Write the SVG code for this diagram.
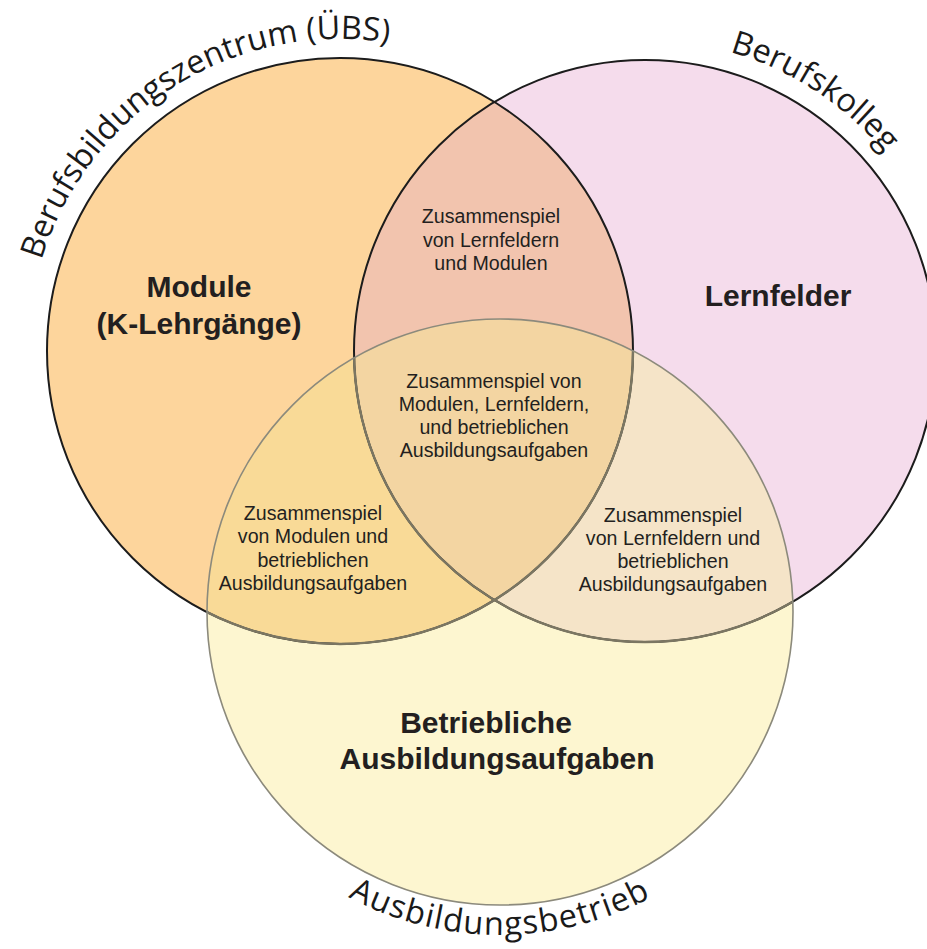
<svg xmlns="http://www.w3.org/2000/svg" width="927" height="949" viewBox="0 0 927 949">
  <style>
    .lbl { font-family: "Liberation Sans", Arial, sans-serif; font-size: 19.6px; fill: #231f20; text-anchor: middle; }
    .big { font-family: "Liberation Sans", Arial, sans-serif; font-size: 30px; font-weight: bold; fill: #231f20; text-anchor: middle; }
    .arc { font-family: "Open Sans", "DejaVu Sans", sans-serif; font-size: 32.5px; fill: #1a1a1a; }
    .edge { fill: none; stroke: #1c1c1c; stroke-width: 2; }
    .edgeIn { fill: none; stroke: #7b7662; stroke-width: 2.4; }
    .edgeY { fill: none; stroke: #8c8a7c; stroke-width: 1.6; }
  </style>
  <defs>
    <clipPath id="cL"><circle cx="340" cy="351" r="293"/></clipPath>
    <clipPath id="cR"><circle cx="645" cy="351" r="291"/></clipPath>
    <clipPath id="cY"><circle cx="500" cy="612" r="293"/></clipPath>
    <path id="pL" d="M 28 351 A 312 312 0 0 1 652 351"/>
    <path id="pR" d="M 334 351 A 311 311 0 0 1 956 351"/>
    <path id="pY" d="M 177 612 A 323 323 0 0 0 823 612"/>
  </defs>
  <rect width="927" height="949" fill="#ffffff"/>

  <g id="fills">
    <circle cx="340" cy="351" r="293" fill="#FDD59C"/>
    <circle cx="645" cy="351" r="291" fill="#F5DCEC"/>
    <circle cx="500" cy="612" r="293" fill="#FDF6D0"/>
    <circle cx="645" cy="351" r="291" fill="#F2C4AE" clip-path="url(#cL)"/>
    <circle cx="500" cy="612" r="293" fill="#F9DA97" clip-path="url(#cL)"/>
    <circle cx="500" cy="612" r="293" fill="#F5E4C8" clip-path="url(#cR)"/>
    <g clip-path="url(#cL)"><circle cx="500" cy="612" r="293" fill="#F3D5A2" clip-path="url(#cR)"/></g>
  </g>

  <g id="outlines">
    <circle class="edge" cx="340" cy="351" r="293"/>
    <circle class="edge" cx="645" cy="351" r="291"/>
    <g clip-path="url(#cY)">
      <circle class="edgeIn" cx="340" cy="351" r="293"/>
      <circle class="edgeIn" cx="645" cy="351" r="291"/>
    </g>
    <circle class="edgeY" cx="500" cy="612" r="293"/>
  </g>

  <g id="connectors"/>

  <g id="node-ubs">
    <text class="arc"><textPath href="#pL" startOffset="32.2%" text-anchor="middle">Berufsbildungszentrum (ÜBS)</textPath></text>
    <text class="big" x="199" y="297">Module</text>
    <text class="big" x="199" y="334">(K-Lehrgänge)</text>
  </g>

  <g id="node-kolleg">
    <text class="arc"><textPath href="#pR" startOffset="68.4%" text-anchor="middle">Berufskolleg</textPath></text>
    <text class="big" x="778" y="306">Lernfelder</text>
  </g>

  <g id="node-betrieb">
    <text class="arc" letter-spacing="1.2" font-size="33.5"><textPath href="#pY" startOffset="50%" text-anchor="middle">Ausbildungsbetrieb</textPath></text>
    <text class="big" x="486" y="733">Betriebliche</text>
    <text class="big" x="497" y="769">Ausbildungsaufgaben</text>
  </g>

  <g id="overlap-ubs-kolleg">
    <text class="lbl" x="491" y="223">Zusammenspiel</text>
    <text class="lbl" x="491" y="247">von Lernfeldern</text>
    <text class="lbl" x="491" y="270">und Modulen</text>
  </g>

  <g id="overlap-all">
    <text class="lbl" x="494" y="388">Zusammenspiel von</text>
    <text class="lbl" x="494" y="411">Modulen, Lernfeldern,</text>
    <text class="lbl" x="494" y="434">und betrieblichen</text>
    <text class="lbl" x="494" y="457">Ausbildungsaufgaben</text>
  </g>

  <g id="overlap-ubs-betrieb">
    <text class="lbl" x="313" y="520">Zusammenspiel</text>
    <text class="lbl" x="313" y="543">von Modulen und</text>
    <text class="lbl" x="313" y="567">betrieblichen</text>
    <text class="lbl" x="313" y="590">Ausbildungsaufgaben</text>
  </g>

  <g id="overlap-kolleg-betrieb">
    <text class="lbl" x="673" y="522">Zusammenspiel</text>
    <text class="lbl" x="673" y="545">von Lernfeldern und</text>
    <text class="lbl" x="673" y="568">betrieblichen</text>
    <text class="lbl" x="673" y="591">Ausbildungsaufgaben</text>
  </g>
</svg>
